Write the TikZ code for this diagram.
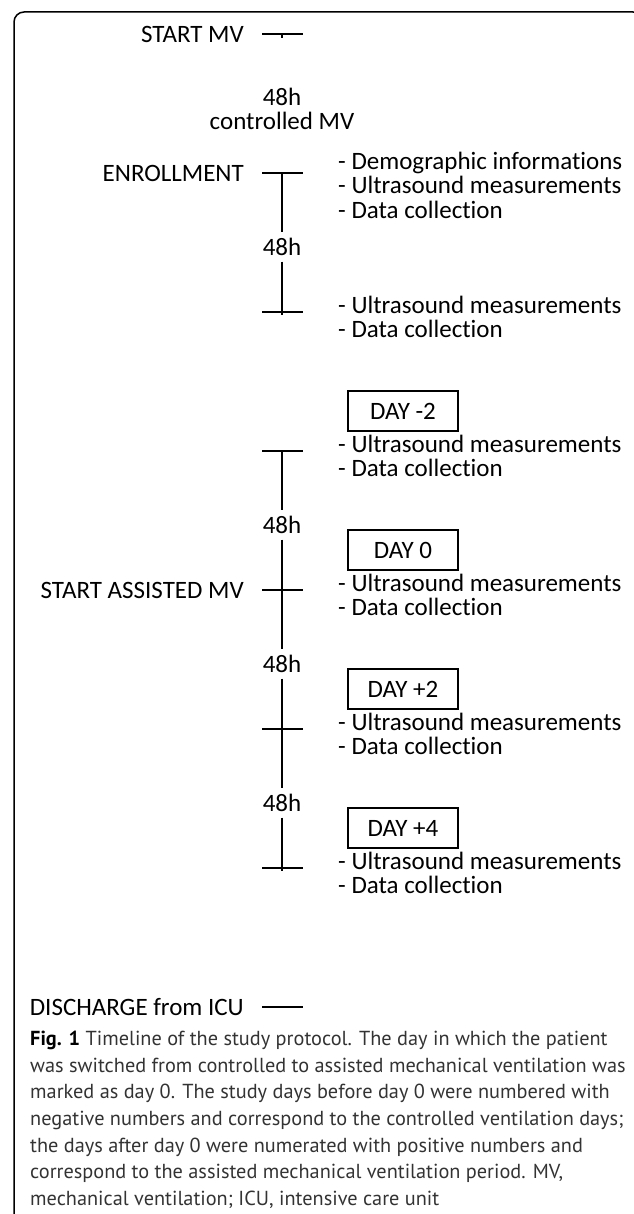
\documentclass[tikz,border=0pt]{standalone}
\usepackage{fontspec}
\setmainfont{Carlito}[Ligatures=NoCommon]
\newfontfamily\capfont{PT Sans}
\usetikzlibrary{calc}

\begin{document}
\begin{tikzpicture}[x=1pt,y=-1pt,font=\fontsize{25}{24.5}\selectfont,
	tickline/.style={line width=2pt},
	stage/.style={anchor=east,inner sep=0pt},
	notes/.style={anchor=west,align=left,inner sep=0pt},
	daybox/.style={draw,line width=1.4pt,minimum width=110pt,minimum height=40pt,inner sep=0pt},
	hours/.style={inner xsep=0pt,inner ysep=6pt}]
	\useasboundingbox (0,0) rectangle (633,1214);
	\def\gap{139}
	% frame
	\draw[line width=1.5pt,rounded corners=10pt] (14,1230) -- (14,12) -- (643,12) -- (643,40);

	% ticks on the time line
	\foreach \i in {0,...,7} {
		\coordinate (t\i) at (282,34+\i*\gap);
		\draw[tickline] ([xshift=-20pt]t\i) -- ([xshift=21pt]t\i);
	}
	\draw[tickline] (t0) -- ++(0,4);

	\node[stage] (smv) at ([xshift=-38pt]t0) {START MV};
	\node[stage] (enr) at ([xshift=-38pt]t1) {ENROLLMENT};
	\node[stage] (sam) at ([xshift=-38pt]t4) {START ASSISTED MV};
	\node[stage] (dis) at ([xshift=-38pt]t7) {DISCHARGE from ICU};

	\node[align=center,inner sep=0pt] (cmv) at ($(t0)!0.54!(t1)$) {48h\\controlled MV};

	% 48h periods
	\foreach \a/\b/\n in {1/2/a,3/4/b,4/5/c,5/6/d} {
		\node[hours] (h\n) at ($(t\a)!0.53!(t\b)$) {48h};
		\draw[tickline] (t\a) -- (h\n);
		\draw[tickline] (h\n) -- ([yshift=-3pt]t\b);
	}

	% measurements
	\node[notes] (n1) at ($(t1)+(56,12)$) {- Demographic informations\\- Ultrasound measurements\\- Data collection};
	\foreach \i in {2,...,6}
		\node[notes] (n\i) at ($(t\i)+(56,5)$) {- Ultrasound measurements\\- Data collection};

	% days
	\foreach \i/\d in {3/-2,4/0,5/+2,6/+4}
		\node[daybox] (d\i) at ($(t\i)+(121,-40)$) {DAY \d};

	% caption
	\node[anchor=north west,align=left,inner sep=0pt,text=black!80,font=\capfont\fontsize{20.3}{26.6}\selectfont] (cap) at (30,1031)
		{\textcolor{black}{\textbf{Fig. 1}} Timeline of the study protocol. The day in which the patient\\
		was switched from controlled to assisted mechanical ventilation was\\
		marked as day 0. The study days before day 0 were numbered with\\
		negative numbers and correspond to the controlled ventilation days;\\
		the days after day 0 were numerated with positive numbers and\\
		correspond to the assisted mechanical ventilation period. MV,\\
		mechanical ventilation; ICU, intensive care unit};
\end{tikzpicture}
\end{document}
